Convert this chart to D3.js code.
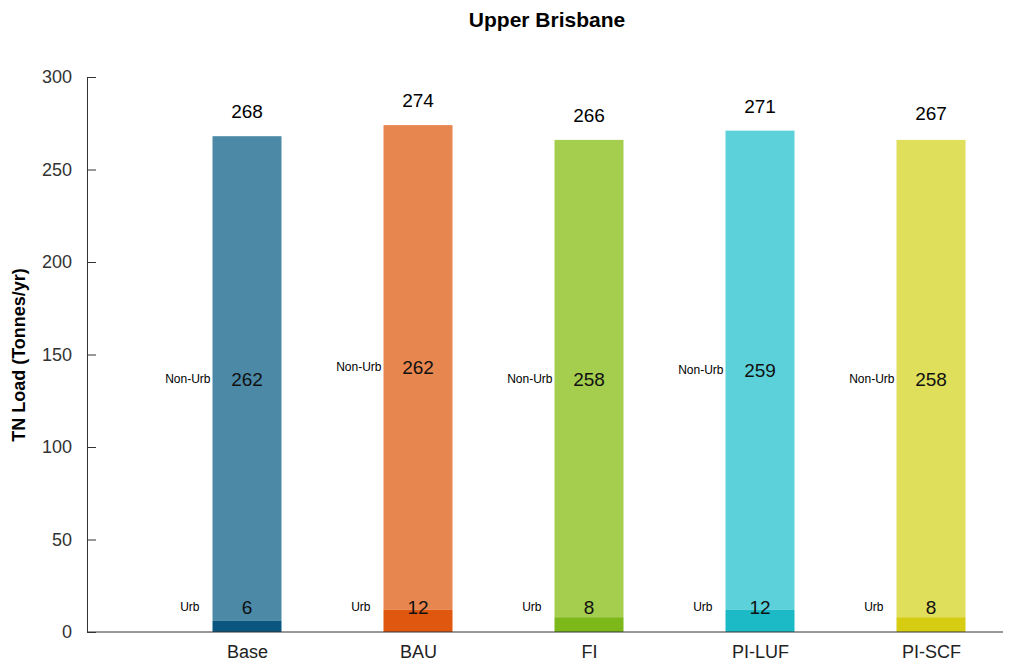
<!DOCTYPE html>
<html>
<head>
<meta charset="utf-8">
<script src="https://cdn.jsdelivr.net/npm/d3@7"></script>
<style>
  body { margin: 0; background: #fff; }
  text { font-family: "Liberation Sans", Arial, sans-serif; }
</style>
</head>
<body>
<svg id="chart" width="1013" height="666"></svg>
<script>
const categories = ["Base", "BAU", "FI", "PI-LUF", "PI-SCF"];
const urbValues = [6, 12, 8, 12, 8];
const nonUrbValues = [262, 262, 258, 259, 258];
const totalValues = [268, 274, 266, 271, 267];
const yTicks = [0, 50, 100, 150, 200, 250, 300];

const nonUrbColors = ["#4b89a7", "#e8864f", "#a5cd4e", "#5dd1d9", "#e0df5b"];
const urbColors = ["#0b5681", "#e0580f", "#7db81a", "#1cb9c7", "#d6cc12"];

const svg = d3.select("#chart");
const margin = { top: 77, right: 10, bottom: 34, left: 87 };
const yBase = 666 - margin.bottom;
const barW = 69;
const urbLabelValue = 13.5;

const x = d3.scalePoint()
  .domain(categories)
  .range([247, 931]);

const y = d3.scaleLinear()
  .domain([0, 300])
  .range([yBase, margin.top]);

const data = categories.map((c, i) => ({
  name: c,
  urb: urbValues[i],
  nonUrb: nonUrbValues[i],
  total: totalValues[i],
  c1: nonUrbColors[i],
  c2: urbColors[i]
}));

// title
svg.append("text")
  .attr("x", 547).attr("y", 27)
  .attr("text-anchor", "middle")
  .style("font-weight", "bold")
  .style("font-size", "21px")
  .text("Upper Brisbane");

// y axis label
svg.append("text")
  .attr("transform", `translate(25,355) rotate(-90)`)
  .attr("text-anchor", "middle")
  .style("font-weight", "bold")
  .style("font-size", "18px")
  .text("TN Load (Tonnes/yr)");

// bars
const g = svg.append("g");
g.selectAll("rect.nonurb")
  .data(data).enter().append("rect")
  .attr("class", "nonurb")
  .attr("x", d => x(d.name) - barW / 2)
  .attr("width", barW)
  .attr("y", d => y(d.urb + d.nonUrb))
  .attr("height", d => y(d.urb) - y(d.urb + d.nonUrb))
  .attr("fill", d => d.c1);

g.selectAll("rect.urb")
  .data(data).enter().append("rect")
  .attr("class", "urb")
  .attr("x", d => x(d.name) - barW / 2)
  .attr("width", barW)
  .attr("y", d => y(d.urb))
  .attr("height", d => y(0) - y(d.urb))
  .attr("fill", d => d.c2);

// labels
g.selectAll("text.total")
  .data(data).enter().append("text")
  .attr("x", d => x(d.name))
  .attr("y", d => y(d.total) - 18)
  .attr("text-anchor", "middle")
  .style("font-size", "19px")
  .text(d => d.total);

g.selectAll("text.nuval")
  .data(data).enter().append("text")
  .attr("x", d => x(d.name))
  .attr("y", d => y(d.urb + d.nonUrb / 2) + 7)
  .attr("text-anchor", "middle")
  .style("font-size", "19px")
  .attr("fill", "#111")
  .text(d => d.nonUrb);

g.selectAll("text.nulab")
  .data(data).enter().append("text")
  .attr("x", d => x(d.name) - barW / 2 - 2)
  .attr("y", d => y(d.urb + d.nonUrb / 2) + 4)
  .attr("text-anchor", "end")
  .style("font-size", "12px")
  .text("Non-Urb");

g.selectAll("text.uval")
  .data(data).enter().append("text")
  .attr("x", d => x(d.name))
  .attr("y", y(urbLabelValue) + 7)
  .attr("text-anchor", "middle")
  .style("font-size", "19px")
  .attr("fill", "#111")
  .text(d => d.urb);

g.selectAll("text.ulab")
  .data(data).enter().append("text")
  .attr("x", d => x(d.name) - barW / 2 - 13)
  .attr("y", y(urbLabelValue) + 4)
  .attr("text-anchor", "end")
  .style("font-size", "12px")
  .text("Urb");

// y axis (ticks inward)
const yAxis = svg.append("g")
  .attr("transform", `translate(${margin.left},0)`)
  .call(d3.axisRight(y).tickValues(yTicks).tickSize(9).tickSizeOuter(0).tickFormat(d3.format("d")));
yAxis.select(".domain").attr("stroke", "#333");
yAxis.selectAll(".tick line").attr("stroke", "#333");
yAxis.selectAll(".tick text")
  .attr("x", -15)
  .attr("text-anchor", "end")
  .style("font-size", "18px")
  .attr("fill", "#333");

// x axis
const xAxis = svg.append("g")
  .attr("transform", `translate(0,${yBase})`)
  .call(d3.axisBottom(x).tickSize(0).tickSizeOuter(0));
xAxis.select(".domain").attr("d", `M${margin.left},0H1003`).attr("stroke", "#333");
xAxis.selectAll(".tick text")
  .attr("dy", "1.3em")
  .style("font-size", "18px")
  .attr("fill", "#222");
</script>
</body>
</html>
